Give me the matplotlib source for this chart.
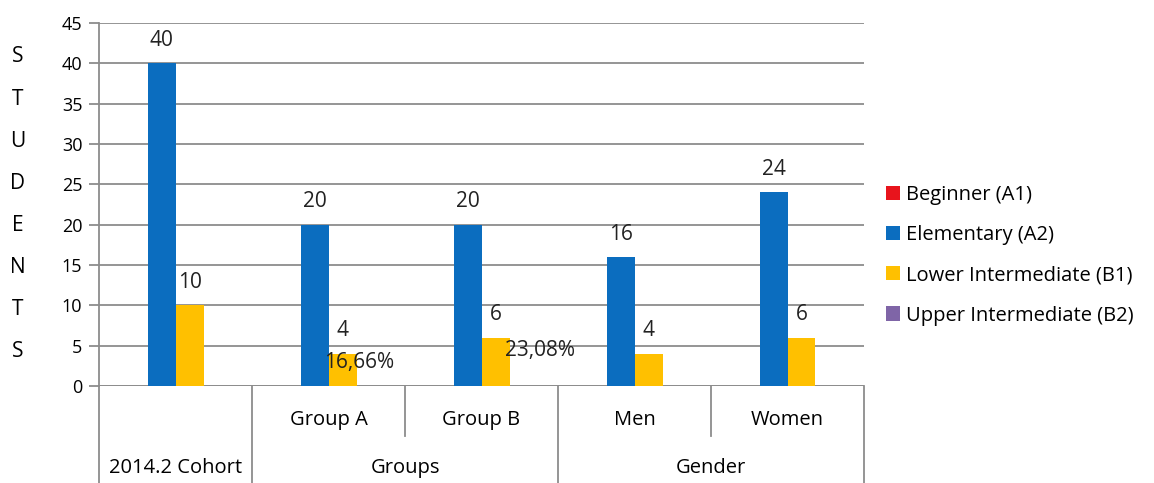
import matplotlib.pyplot as plt
import numpy as np

plt.rcParams['font.family'] = ['Open Sans', 'DejaVu Sans']

categories = ['2014.2 Cohort', 'Group A', 'Group B', 'Men', 'Women']
groups = [('', 0, 1), ('Groups', 1, 3), ('Gender', 3, 5)]
series = ['Beginner (A1)', 'Elementary (A2)', 'Lower Intermediate (B1)', 'Upper Intermediate (B2)']
colors = ['#e8141c', '#0b6dbf', '#ffc000', '#7f65a7']
values = [
    [0, 0, 0, 0, 0],
    [40, 20, 20, 16, 24],
    [10, 4, 6, 4, 6],
    [0, 0, 0, 0, 0],
]
# share of B1 students inside each group
pct_labels = {1: '16,66%', 2: '23,08%'}
pct_offsets = {1: (-13, -6.5), 2: (7, -9.5)}

fig = plt.figure(figsize=(11.54, 4.83), dpi=100)
ax = fig.add_axes([0.0858, 0.2008, 0.6629, 0.7516])

x = np.arange(len(categories))
w = 0.183
for i, (name, col, vals) in enumerate(zip(series, colors, values)):
    pos = x + (i - 1.5) * w
    bars = ax.bar(pos, vals, w, color=col, label=name, zorder=3)
    for b, v in zip(bars, vals):
        if v == 0:
            continue
        ax.annotate(str(v), (b.get_x() + b.get_width() / 2, v), xytext=(0, 16.5),
                    textcoords='offset points', ha='center', va='center',
                    fontsize=15, color='#222222', zorder=4)
    if i == 2:
        for k, txt in pct_labels.items():
            ax.annotate(txt, (pos[k], vals[k]), xytext=pct_offsets[k],
                        textcoords='offset points', ha='left', va='center',
                        fontsize=15, color='#222222', zorder=4)

ax.set_xlim(-0.5, len(categories) - 0.5)
ax.set_ylim(0, 45)
ax.set_yticks(range(0, 46, 5))
ax.yaxis.grid(True, color='#8c8c8c', lw=1.3, zorder=0)
ax.tick_params(axis='y', length=7, color='#8c8c8c', width=1.3, labelsize=13, pad=5)
ax.tick_params(axis='x', bottom=False, labelbottom=False)
for s in ['top', 'right', 'bottom']:
    ax.spines[s].set_visible(False)
ax.spines['left'].set_color('#8c8c8c')
ax.spines['left'].set_linewidth(1.3)
ax.axhline(0, color='#8c8c8c', lw=1.3, zorder=2)

# two-level category axis
tr = ax.get_xaxis_transform()
bottom = -0.267
for edge in [-0.5, 0.5, 2.5, 4.5]:
    ax.plot([edge, edge], [0, bottom], transform=tr, color='#8c8c8c', lw=1.3, clip_on=False)
for edge in [1.5, 3.5]:
    ax.plot([edge, edge], [0, -0.138], transform=tr, color='#8c8c8c', lw=1.3, clip_on=False)
for i, c in enumerate(categories[1:], start=1):
    ax.text(i, -0.094, c, transform=tr, ha='center', va='center', fontsize=14.5)
ax.text(0, -0.226, categories[0], transform=tr, ha='center', va='center', fontsize=14.5)
for name, a, b in groups[1:]:
    ax.text((a + b - 1) / 2, -0.226, name, transform=tr, ha='center', va='center', fontsize=14.5)

# vertical axis title, one letter per line
for j, ch in enumerate('STUDENTS'):
    fig.text(18 / 1154, 1 - (57 + j * 42.1) / 483, ch, ha='center', va='center', fontsize=15)

ax.legend(loc='center left', bbox_to_anchor=(1.005, 0.36), frameon=False, fontsize=14.5,
          handlelength=0.7, handleheight=0.7, handletextpad=0.3, labelspacing=1.0)

plt.savefig('out.png', dpi=100)
